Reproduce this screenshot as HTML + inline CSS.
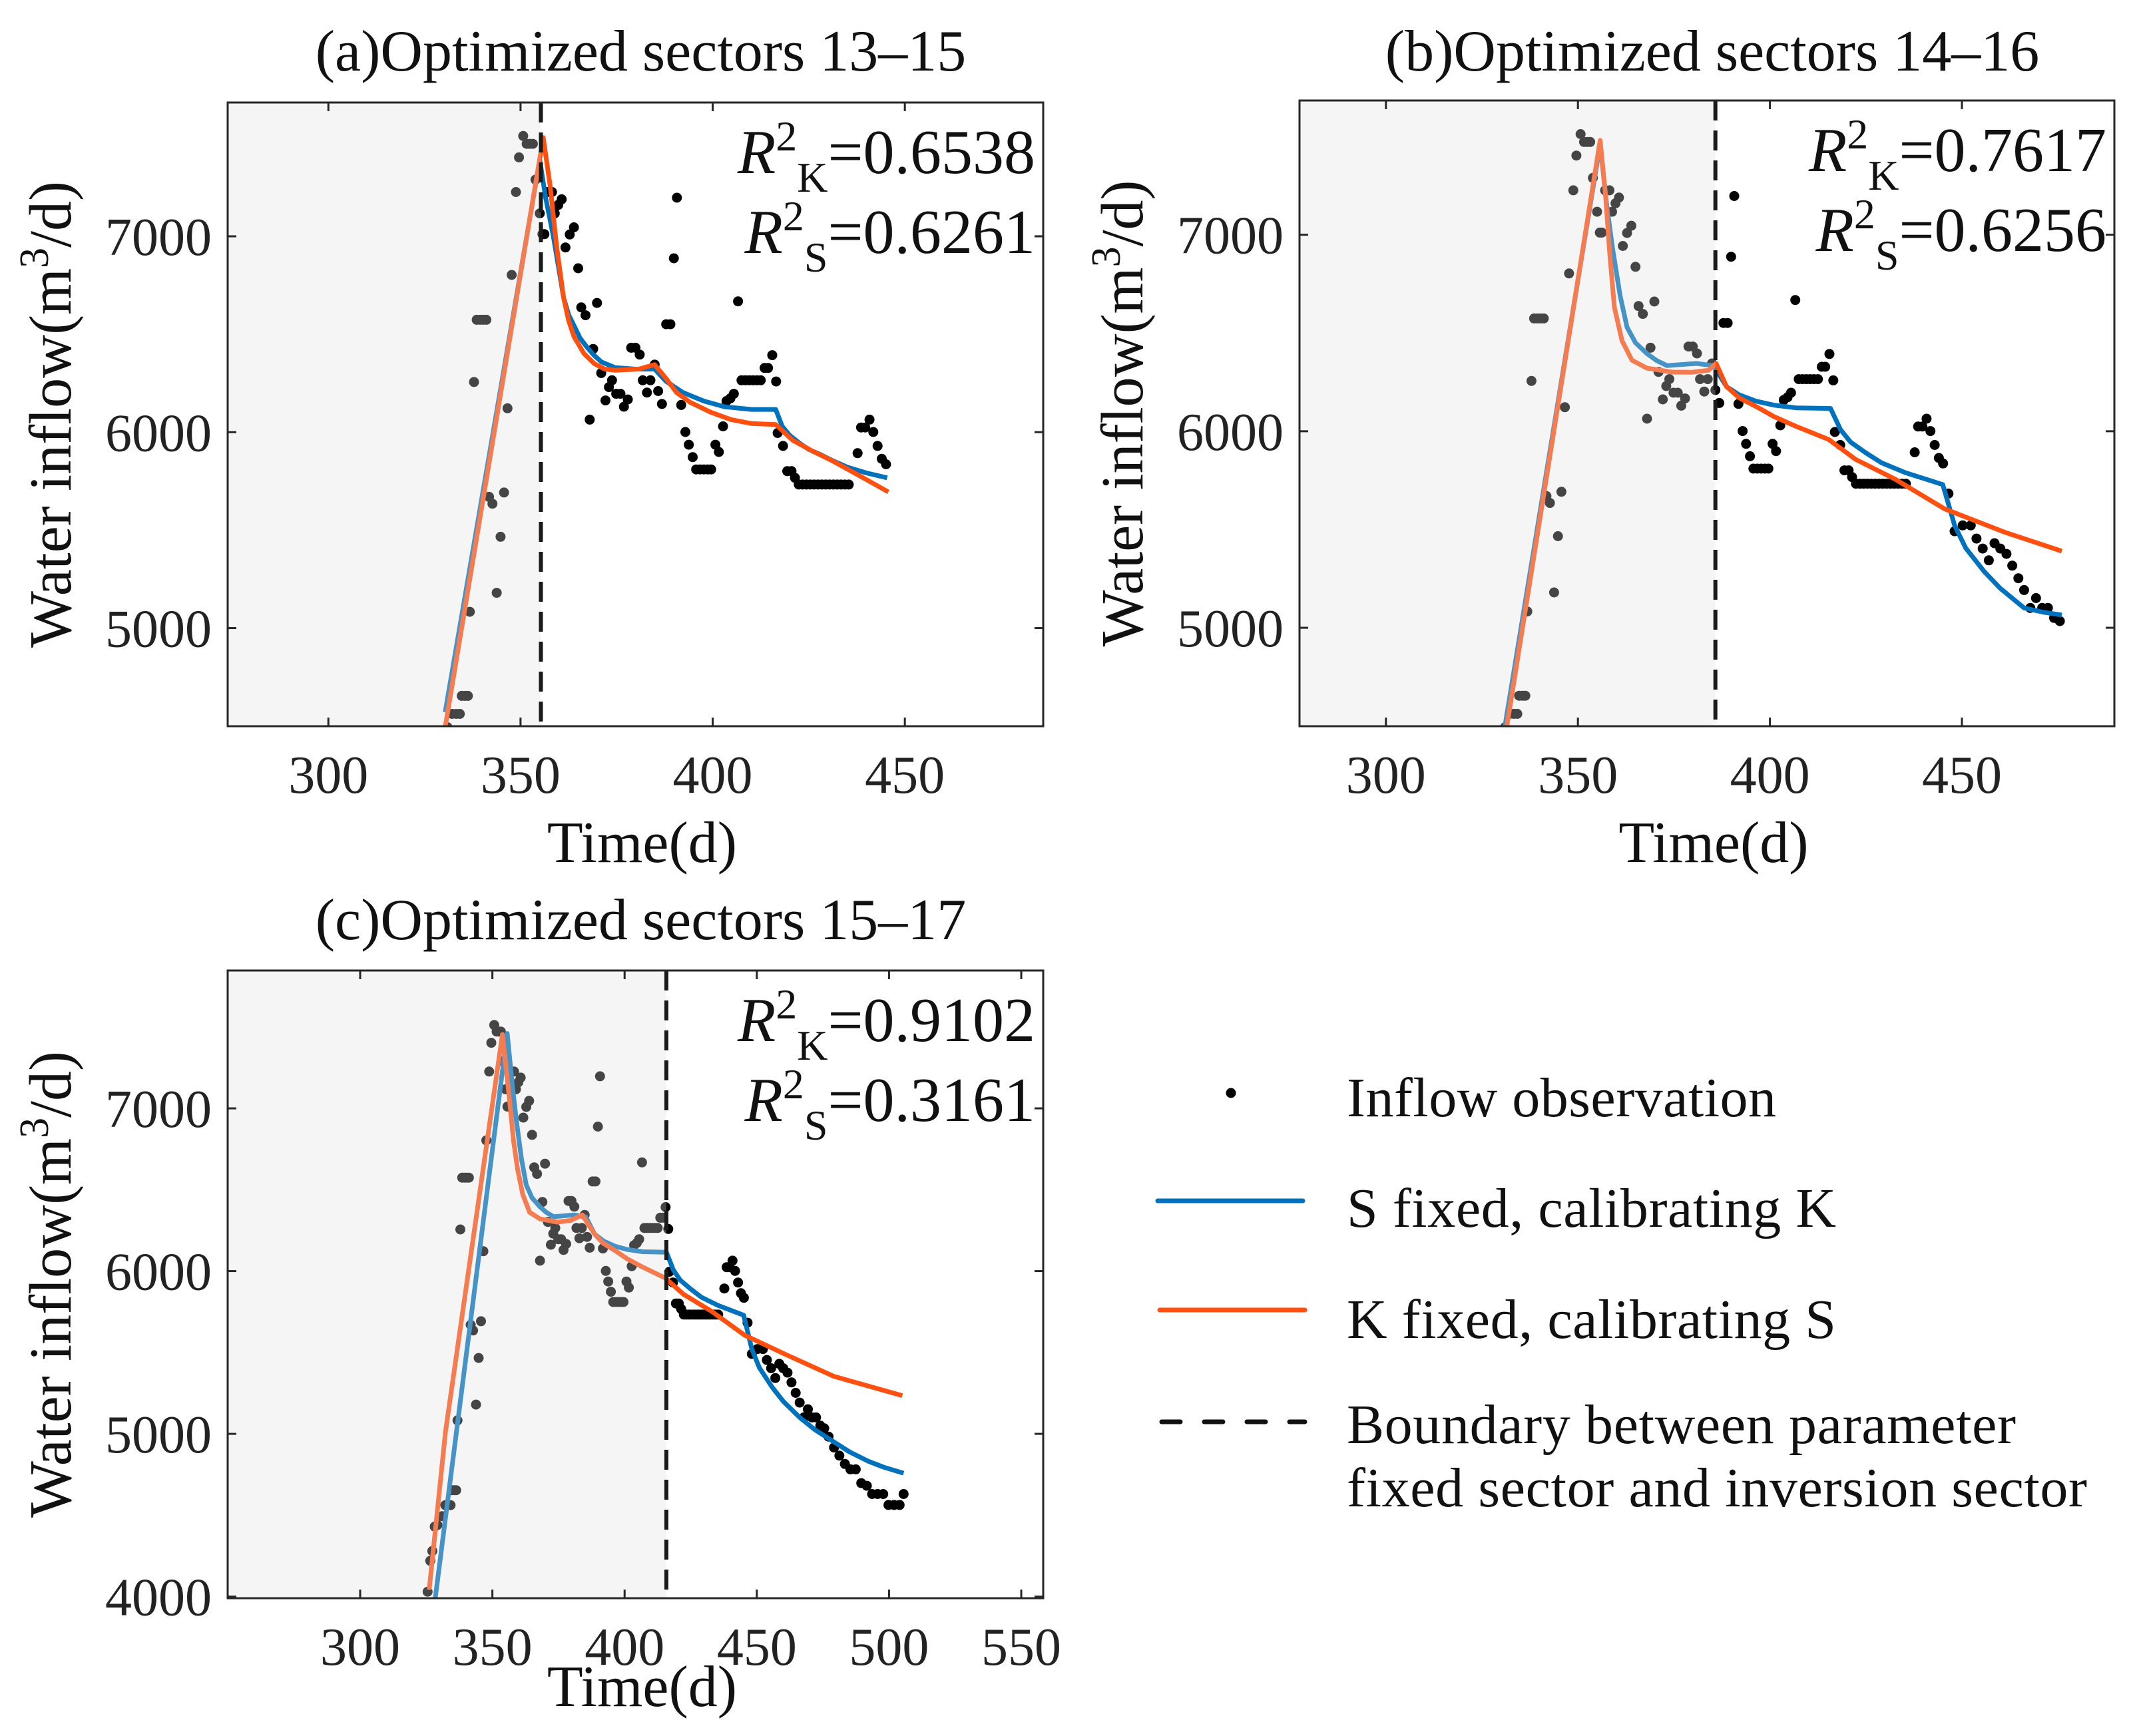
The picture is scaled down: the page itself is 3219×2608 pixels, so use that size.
<!DOCTYPE html>
<html><head><meta charset="utf-8"><style>
html,body{margin:0;padding:0;background:#fff;}
svg{display:block;font-family:"Liberation Serif","Times New Roman",serif;}
</style></head><body>
<svg id="fig" width="3219" height="2608" viewBox="0 0 3219 2608" xmlns="http://www.w3.org/2000/svg">
<rect x="0" y="0" width="3219" height="2608" fill="#fff"/>
<g id="legend">
  <circle cx="1849" cy="1642" r="7.5" fill="#000"/>
  <text x="2023" y="1677" font-size="84" textLength="645" fill="#111">Inflow observation</text>
  <line x1="1739" y1="1804" x2="1957" y2="1804" stroke="#0072BD" stroke-width="7" stroke-linecap="round"/>
  <text x="2023" y="1843" font-size="84" textLength="735" fill="#111">S fixed, calibrating K</text>
  <line x1="1742" y1="1968" x2="1960" y2="1968" stroke="#FF5010" stroke-width="7" stroke-linecap="round"/>
  <text x="2023" y="2010" font-size="84" textLength="735" fill="#111">K fixed, calibrating S</text>
  <line x1="1745" y1="2136" x2="1960" y2="2136" stroke="#111" stroke-width="7" stroke-dasharray="28 36" stroke-linecap="round"/>
  <text x="2023" y="2168" font-size="84" textLength="1005" fill="#111">Boundary between parameter</text>
  <text x="2023" y="2263" font-size="84" textLength="1112" fill="#111">fixed sector and inversion sector</text>
</g>
</svg>
<script>
// ---- Data (shared observation series) ----
const obsDays = [325.5,326.5,327.3,328.2,329.2,331,332.2,333.3,334.2,334.7,335.6,336.3,336.8,337.9,338.6,339.5,340.3,341.1,341.8,342.7,343.8,344.8,345.7,346.6,347.7,348.8,349.6,350.7,351.6,352.4,353.2,353.9,355,355.7,356.2,357.1,358.2,358.9,359.8,360.7,361.7,362.8,363.9,365,365.8,366.9,368,368.9,369.9,371,372.1,373,373.8,374.9,376,376.9,377.9,378.8,379.9,381,381.8,382.9,383.8,384.9,385.8,386.8,387.9,389,389.9,390.7,391.8,392.9,393.8,394.8,395.7,396.7,397.7,398.7,399.6,400.7,401.6,402.7,403.6,404.6,405.5,406.6,407.5,408.5,409.5,410.5,411.5,412.5,413.5,414.4,415.5,416.5,416.9,418.3,419.4,420.5,421.4,422.4,423.4,424.4,425.4,426.4,427.4,428.4,429.4,430.4,431.4,432.4,433.4,434.4,435.4,437.7,438.6,439.7,440.8,441.8,442.9,444,445.1,446.5,448.1,450.2,452.3,453.8,455.4,457,458.5,460,461.6,463.1,464.7,466.2,467.8,469.3,470.9,472.4,474,475.5,477.1,479.2,481.2,483.3,485.4,487.4,489.5,491.6,493.6,495.7,497.8,499.8,501.9,504,505.5];
const obsInflow = [4030,4220,4280,4430,4440,4494,4562,4562,4562,4654,4654,4654,5083,6256,6574,6574,6574,6574,5670,5635,5180,5466,5692,6122,6803,7226,7403,7512,7472,7472,7472,7289,7117,7011,7011,7226,7226,7117,7160,7189,6943,7009,7046,6837,6637,6597,6064,6425,6660,6302,6162,6230,6265,6196,6196,6130,6167,6431,6431,6396,6265,6202,6265,6345,6210,6144,6551,6551,6888,7197,6139,6001,5936,5873,5810,5810,5810,5810,5810,5936,5899,6030,6159,6173,6196,6668,6265,6265,6265,6265,6265,6265,6328,6328,6393,6259,5996,5930,5801,5801,5767,5733,5733,5733,5733,5733,5733,5733,5733,5733,5733,5733,5733,5733,5733,5893,6024,6024,6064,6001,5930,5864,5836,5683,5491,5521,5521,5454,5403,5343,5430,5403,5376,5316,5252,5192,5101,5151,5101,5101,5050,5034,4983,4916,4866,4815,4782,4782,4697,4681,4630,4630,4630,4563,4563,4563,4630];

// Panel (a) model curves
const aBlueDays = [330.4,355,356.5,358.5,360,361.2,362.5,363.9,365.5,367.4,369,371,374.6,379.9,384.9,387.9,392.3,397.7,403,410.1,416.4,418.1,420,422.6,425,427.9,431,435.1,440,445.4];
const aBlueInflow = [4571,7389,7200,7003,6830,6688,6600,6545,6480,6431,6395,6359,6330,6322,6322,6259,6202,6159,6130,6116,6116,6030,5985,5944,5912,5887,5857,5821,5792,5767];
const aOrangeDays = [330.4,355.9,357.7,359.4,361.2,362.5,363.9,366.5,369.2,371.9,374.6,380.8,384.9,387.9,390.6,394.1,399.5,404.8,410.1,416.4,420.8,426.2,431.5,438.6,445.7];
const aOrangeInflow = [4494,7504,7260,6946,6688,6570,6488,6402,6350,6322,6316,6322,6345,6273,6202,6153,6102,6064,6044,6039,5959,5901,5850,5773,5695];

// Panel (b) model curves
const bBlueDays = [331,355.8,357.5,359,361,362.8,365,368,370.5,373.2,380.9,385.3,388.7,392,396.4,401,406.8,415.8,418.4,421,424.9,429,435.2,445,448.1,451,455.8,460,466.2,471,476];
const bBlueInflow = [4500,7460,7150,6933,6690,6529,6450,6395,6360,6334,6345,6334,6227,6185,6153,6133,6119,6116,6008,5945,5891,5840,5790,5729,5521,5405,5286,5200,5101,5080,5065];
const bOrangeDays = [331.5,355.8,357.2,358.3,359.5,361.5,364.1,368,374.5,379.6,384,386,388.7,392,396.4,401,406.8,415.3,422.3,432.6,445.5,461,476];
const bOrangeInflow = [4500,7480,7200,6900,6630,6460,6361,6321,6301,6300,6310,6345,6227,6170,6126,6075,6025,5958,5857,5756,5605,5487,5390];

// Panel (c) model curves
const cBlueDays = [328.4,355.6,357.5,359,361,362.8,365,368,370.5,373.2,380.9,385.3,388.7,392,396.4,401,406.8,415.8,418.4,421,424.9,429,435.2,445,448.1,451,455.8,460,466.2,472,479.2,485,492.1,498,505.5];
const cBlueInflow = [3990,7460,7150,6933,6690,6529,6450,6395,6360,6334,6345,6334,6227,6185,6153,6133,6119,6116,6008,5945,5891,5840,5790,5729,5521,5405,5286,5200,5101,5025,4950,4890,4832,4795,4758];
const cOrangeDays = [326.1,332.3,353.8,356.4,358,359.5,361.5,364.1,368,374.5,379.6,384,388.7,392,396.4,401,406.8,415.3,422.3,432.6,445.5,461,479.2,505];
const cOrangeInflow = [4042,5017,7454,7067,6800,6630,6470,6361,6321,6301,6311,6345,6227,6170,6126,6075,6025,5958,5857,5756,5605,5487,5353,5235];

// Boundary days (end of parameter-fixed sector)
const boundaryDays = [355.3, 385.8, 415.8];
const lastObsDay = [445.5, 476.5, 506];
const r2K = ["0.6538", "0.7617", "0.9102"];
const r2S = ["0.6261", "0.6256", "0.3161"];
const titles = ["(a)Optimized sectors 13\u201315", "(b)Optimized sectors 14\u201316", "(c)Optimized sectors 15\u201317"];
const xTicksAB = [300, 350, 400, 450];
const xTicksC = [300, 350, 400, 450, 500, 550];
const yTicksAB = [5000, 6000, 7000];
const yTicksC = [4000, 5000, 6000, 7000];

const NS = "http://www.w3.org/2000/svg";
const svg = document.getElementById('fig');
function mk(tag, attrs, parent) {
  const e = document.createElementNS(NS, tag);
  for (const k in attrs) e.setAttribute(k, attrs[k]);
  (parent || svg).appendChild(e);
  return e;
}

const panels = [
  {key:'a', L:342, R:1567, T:154, B:1091, x0:273.8, x1:486.0, y0:4499, y1:7683, xt:xTicksAB, yt:yTicksAB, blueD:aBlueDays, blueV:aBlueInflow, orD:aOrangeDays, orV:aOrangeInflow, titleY:106, xlabY:1295},
  {key:'b', L:1952, R:3176, T:151, B:1091, x0:277.5, x1:489.7, y0:4499, y1:7683, xt:xTicksAB, yt:yTicksAB, blueD:bBlueDays, blueV:bBlueInflow, orD:bOrangeDays, orV:bOrangeInflow, titleY:106, xlabY:1295},
  {key:'c', L:342, R:1567, T:1458, B:2401, x0:249.9, x1:558.3, y0:3990, y1:7847, xt:xTicksC, yt:yTicksC, blueD:cBlueDays, blueV:cBlueInflow, orD:cOrangeDays, orV:cOrangeInflow, titleY:1411, xlabY:2563}
];

panels.forEach((p, i) => {
  const sx = v => p.L + (v - p.x0) / (p.x1 - p.x0) * (p.R - p.L);
  const sy = v => p.B - (v - p.y0) / (p.y1 - p.y0) * (p.B - p.T);
  const g = mk('g', {});
  
  

  const clip = mk('clipPath', {id: 'clip-' + p.key}, g);
  mk('rect', {x: p.L, y: p.T, width: p.R - p.L, height: p.B - p.T}, clip);
  const plot = mk('g', {'clip-path': 'url(#clip-' + p.key + ')'}, g);
  
  

  for (let j = 0; j < obsDays.length; j++) {
    if (obsDays[j] > lastObsDay[i]) continue;
    const c = mk('circle', {cx: sx(obsDays[j]).toFixed(1), cy: sy(obsInflow[j]).toFixed(1), r: 7.5, fill: '#000'}, plot);
    
    
  }
  const line = (D, V) => D.map((d, k) => (k ? 'L' : 'M') + sx(d).toFixed(1) + ',' + sy(V[k]).toFixed(1)).join(' ');
  const bl = mk('path', {d: line(p.blueD, p.blueV), fill: 'none', stroke: '#0072BD', 'stroke-width': 7, 'stroke-linejoin': 'round'}, plot);
  
  
  const ol = mk('path', {d: line(p.orD, p.orV), fill: 'none', stroke: '#FF5010', 'stroke-width': 7, 'stroke-linejoin': 'round'}, plot);
  
  

  const bx = sx(boundaryDays[i]);
  const sh = mk('rect', {x: p.L, y: p.T, width: bx - p.L, height: p.B - p.T, fill: 'rgb(222,222,222)', 'fill-opacity': 0.31}, plot);
  
  
  const dl = mk('line', {x1: bx, y1: p.T, x2: bx, y2: p.B, stroke: '#1a1a1a', 'stroke-width': 6, 'stroke-dasharray': '30 15'}, plot);
  
  

  const box = mk('rect', {x: p.L, y: p.T, width: p.R - p.L, height: p.B - p.T, fill: 'none', stroke: '#262626', 'stroke-width': 3}, g);
  
  
  p.xt.forEach(t => {
    const x = sx(t);
    mk('line', {x1: x, y1: p.B, x2: x, y2: p.B - 13, stroke: '#262626', 'stroke-width': 3}, g);
    mk('line', {x1: x, y1: p.T, x2: x, y2: p.T + 13, stroke: '#262626', 'stroke-width': 3}, g);
    const tx = mk('text', {x: x, y: p.B + 100, 'font-size': 80, 'text-anchor': 'middle', fill: '#222'}, g);
    tx.textContent = t;
    
    
  });
  p.yt.forEach(t => {
    const y = sy(t);
    mk('line', {x1: p.L, y1: y, x2: p.L + 13, y2: y, stroke: '#262626', 'stroke-width': 3}, g);
    mk('line', {x1: p.R, y1: y, x2: p.R - 13, y2: y, stroke: '#262626', 'stroke-width': 3}, g);
    const ty = mk('text', {x: p.L - 24, y: y + 28, 'font-size': 80, 'text-anchor': 'end', fill: '#222'}, g);
    ty.textContent = t;
    
    
  });

  const tt = mk('text', {x: (p.L + p.R) / 2 + 8, y: p.titleY, 'font-size': 88, 'text-anchor': 'middle', fill: '#111'}, g);
  tt.textContent = titles[i];
  
  
  const xl = mk('text', {x: (p.L + p.R) / 2 + 10, y: p.xlabY, 'font-size': 88, 'text-anchor': 'middle', fill: '#111'}, g);
  xl.textContent = 'Time(d)';
  
  
  const cy = (p.T + p.B) / 2;
  const yl = mk('text', {x: 0, y: 0, 'font-size': 90, 'text-anchor': 'middle', fill: '#111', transform: 'translate(' + (p.L - 236) + ',' + cy + ') rotate(-90)'}, g);
  
  
  yl.innerHTML = 'Water inflow(m<tspan font-size="62" dy="-34">3</tspan><tspan dy="34">/d)</tspan>';

  const rk = mk('text', {x: p.R - 12, y: p.T + 106, 'font-size': 94, 'text-anchor': 'end', fill: '#111'}, g);
  
  
  rk.innerHTML = '<tspan font-style="italic">R</tspan><tspan font-size="64" dy="-34">2</tspan><tspan font-size="64" dy="62">K</tspan><tspan dy="-28">=' + r2K[i] + '</tspan>';
  const rs = mk('text', {x: p.R - 12, y: p.T + 226, 'font-size': 94, 'text-anchor': 'end', fill: '#111'}, g);
  
  
  rs.innerHTML = '<tspan font-style="italic">R</tspan><tspan font-size="64" dy="-34">2</tspan><tspan font-size="64" dy="62">S</tspan><tspan dy="-28">=' + r2S[i] + '</tspan>';
});
</script>
</body></html>
